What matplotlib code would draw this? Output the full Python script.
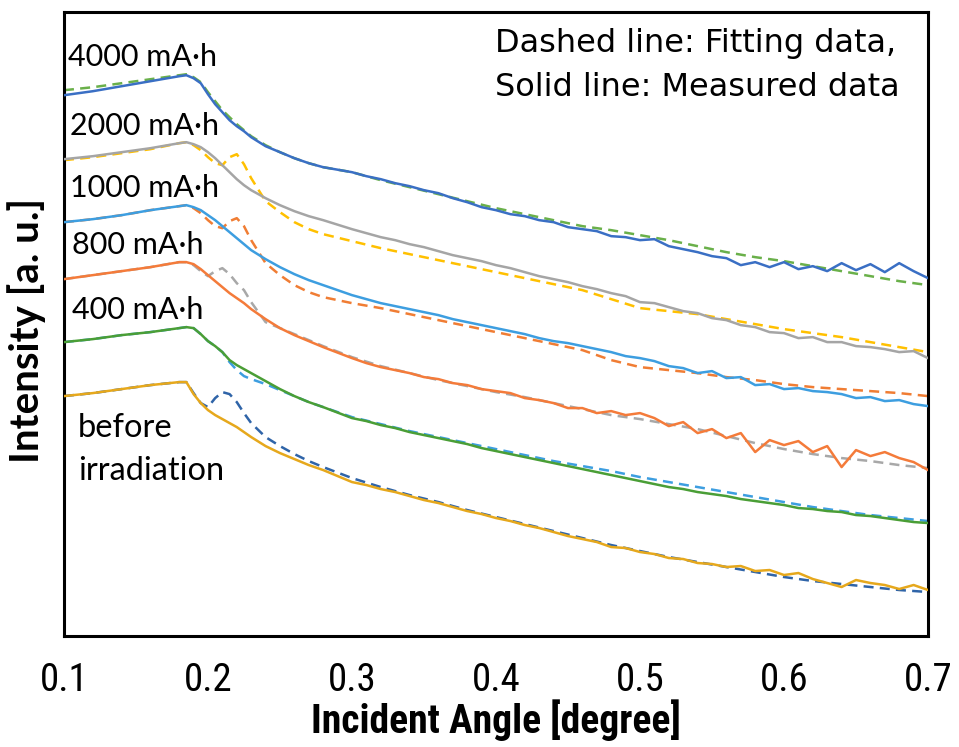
import matplotlib
matplotlib.use("Agg")
import matplotlib.pyplot as plt

# incident angle grids [degree]
angle_head = [0.10, 0.12, 0.14, 0.16, 0.18, 0.185, 0.19, 0.195, 0.20, 0.205,
              0.21, 0.215, 0.22, 0.225, 0.23, 0.24, 0.25, 0.26, 0.27, 0.28]
angle_tail = [round(0.30 + 0.01 * i, 2) for i in range(41)]
angle_meas = angle_head + angle_tail
angle_fit = angle_head + [0.30, 0.32, 0.34, 0.36, 0.38, 0.40, 0.42, 0.44, 0.46, 0.48,
                          0.50, 0.52, 0.54, 0.56, 0.58, 0.60, 0.62, 0.64, 0.66, 0.68, 0.70]

# depth below the top of the plot (arbitrary intensity units, curves offset)
meas_4000 = [95, 91, 86, 81, 76, 75, 78, 83, 94, 104,
             112, 120, 126, 131, 137, 146, 152, 158, 163, 167,
             172, 176, 179, 183, 186, 190, 193, 198, 202, 207,
             210, 214, 216, 220, 222, 227, 229, 231, 236, 237,
             240, 239, 246, 249, 252, 256, 258, 265, 262, 267,
             262, 269, 266, 271, 263, 270, 264, 272, 263, 271, 278]
fit_4000 = [90, 87, 83, 79, 75, 74, 77, 82, 92, 101,
            110, 117, 124, 130, 136, 145, 152, 158, 163, 167,
            172, 180, 187, 194, 201, 208, 214, 220, 226, 230,
            235, 240, 246, 252, 257, 261, 266, 271, 276, 281, 285]

meas_2000 = [159, 156, 152, 148, 143, 142, 144, 147, 152, 158,
             165, 172, 179, 185, 190, 198, 205, 211, 216, 220,
             229, 233, 237, 240, 244, 247, 251, 255, 258, 261,
             265, 268, 272, 276, 279, 282, 286, 289, 293, 296,
             302, 303, 307, 311, 313, 318, 320, 325, 327, 332,
             333, 338, 337, 342, 342, 346, 347, 349, 352, 351, 358]
fit_2000 = [160, 157, 153, 149, 143, 142, 145, 150, 157, 163,
            165, 157, 154, 164, 178, 201, 212, 222, 229, 234,
            241, 248, 254, 260, 266, 272, 278, 284, 290, 299,
            308, 311, 314, 319, 324, 329, 333, 337, 342, 347, 352]

meas_1000 = [222, 219, 215, 210, 206, 205, 207, 210, 215, 220,
             226, 232, 238, 244, 250, 259, 267, 274, 280, 285,
             295, 299, 303, 306, 309, 312, 315, 319, 322, 325,
             328, 331, 334, 338, 341, 343, 346, 349, 352, 356,
             358, 361, 366, 368, 373, 371, 378, 377, 385, 384,
             389, 388, 391, 392, 394, 398, 397, 401, 400, 404, 406]
fit_1000 = [222, 219, 215, 210, 206, 205, 208, 213, 220, 226,
            228, 221, 218, 226, 240, 263, 275, 285, 292, 297,
            303, 308, 314, 320, 326, 332, 338, 344, 350, 360,
            367, 370, 373, 377, 380, 384, 387, 389, 391, 393, 396]

meas_800 = [279, 275, 271, 267, 262, 262, 264, 269, 275, 281,
            287, 293, 298, 303, 309, 319, 328, 335, 341, 347,
            358, 363, 367, 370, 373, 377, 379, 383, 385, 389,
            391, 393, 398, 400, 403, 408, 408, 413, 411, 415,
            413, 418, 426, 422, 433, 429, 438, 433, 452, 440,
            445, 441, 452, 446, 467, 450, 456, 452, 458, 462, 470]
fit_800 = [279, 275, 271, 267, 262, 262, 265, 271, 276, 271,
           268, 274, 283, 290, 302, 322, 328, 334, 340, 346,
           357, 366, 373, 380, 386, 392, 397, 403, 409, 415,
           419, 424, 429, 436, 443, 449, 454, 458, 461, 465, 468]

meas_400 = [342, 339, 335, 332, 328, 327, 328, 334, 341, 346,
            352, 360, 365, 369, 373, 381, 389, 396, 402, 407,
            418, 421, 425, 428, 432, 435, 438, 441, 444, 448,
            451, 454, 457, 460, 463, 466, 469, 472, 475, 478,
            481, 484, 487, 489, 492, 494, 496, 499, 501, 503,
            505, 508, 509, 511, 512, 515, 516, 518, 520, 522, 523]
fit_400 = [342, 339, 335, 332, 328, 327, 328, 334, 341, 346,
           352, 362, 370, 376, 379, 384, 390, 396, 402, 407,
           417, 424, 431, 437, 443, 449, 455, 461, 466, 471,
           477, 482, 487, 492, 497, 502, 507, 511, 515, 518, 521]

meas_0 = [396, 393, 389, 385, 382, 382, 394, 403, 410, 415,
          419, 423, 427, 432, 437, 446, 453, 459, 465, 470,
          482, 485, 489, 492, 496, 500, 503, 507, 511, 514,
          518, 521, 525, 528, 532, 536, 539, 542, 547, 548,
          552, 554, 558, 559, 563, 564, 567, 566, 571, 570,
          575, 573, 579, 583, 587, 580, 583, 585, 589, 585, 590]
fit_0 = [396, 393, 389, 385, 382, 382, 393, 403, 407, 398,
         392, 394, 402, 413, 423, 437, 446, 454, 461, 467,
         478, 487, 495, 502, 510, 517, 524, 531, 538, 545,
         551, 557, 562, 567, 572, 577, 581, 584, 587, 590, 592]

labels = ["4000 mA·h", "2000 mA·h", "1000 mA·h", "800 mA·h", "400 mA·h"]

curves = [
    (meas_4000, fit_4000, "#3a6fc4", "#6ab04a"),
    (meas_2000, fit_2000, "#a5a5a5", "#ffc000"),
    (meas_1000, fit_1000, "#3d9ee0", "#f07d34"),
    (meas_800, fit_800, "#f47b3a", "#a8a8a8"),
    (meas_400, fit_400, "#4a9e36", "#3d9ee0"),
    (meas_0, fit_0, "#e6a81c", "#2f64a8"),
]

TOP = 636  # depths -> heights

narrow = ["Roboto Condensed", "DejaVu Sans"]

fig = plt.figure(figsize=(9.59, 7.47), dpi=100)
ax = fig.add_axes([0.0667, 0.1486, 0.901, 0.835])

for meas, fit, cm, cf in curves:
    ax.plot(angle_fit, [TOP - v for v in fit], color=cf, lw=1.8,
            dashes=(4, 2.5), zorder=2)
    ax.plot(angle_meas, [TOP - v for v in meas], color=cm, lw=1.8, zorder=3)

ax.set_xlim(0.1, 0.7)
ax.set_ylim(0, 624)
ax.set_yticks([])
ax.set_xticks([0.1, 0.2, 0.3, 0.4, 0.5, 0.6, 0.7])
ax.set_xticklabels(["0.1", "0.2", "0.3", "0.4", "0.5", "0.6", "0.7"],
                   family=narrow, fontstretch="condensed", fontsize=28)
ax.tick_params(axis="x", length=0, pad=19)
for s in ax.spines.values():
    s.set_linewidth(2.2)

ax.set_xlabel("Incident Angle [degree]", family=narrow, fontstretch="condensed",
              fontsize=28.5, fontweight="bold", labelpad=0)
ax.set_ylabel("Intensity [a. u.]", family=["Lato", "DejaVu Sans"],
              fontsize=29, fontweight="bold")
ax.yaxis.set_label_coords(-0.021, 0.49)

lab_font = ["Lato", "DejaVu Sans"]
lab_pos = [(0.1028, 579), (0.1042, 510), (0.1042, 448), (0.1056, 391), (0.1056, 326)]
for t, (lx, ly) in zip(labels, lab_pos):
    ax.text(lx, ly, t, fontsize=22, family=lab_font, va="center", ha="left")
ax.text(0.1097, 208, "before", fontsize=23.5, family=lab_font, va="center")
ax.text(0.1097, 165, "irradiation", fontsize=23.5, family=lab_font, va="center")

ax.text(0.3993, 593, "Dashed line: Fitting data,", fontsize=23,
        family=["DejaVu Sans"], va="center")
ax.text(0.3993, 549, "Solid line: Measured data", fontsize=23,
        family=["DejaVu Sans"], va="center")

fig.savefig("out.png", dpi=100)
